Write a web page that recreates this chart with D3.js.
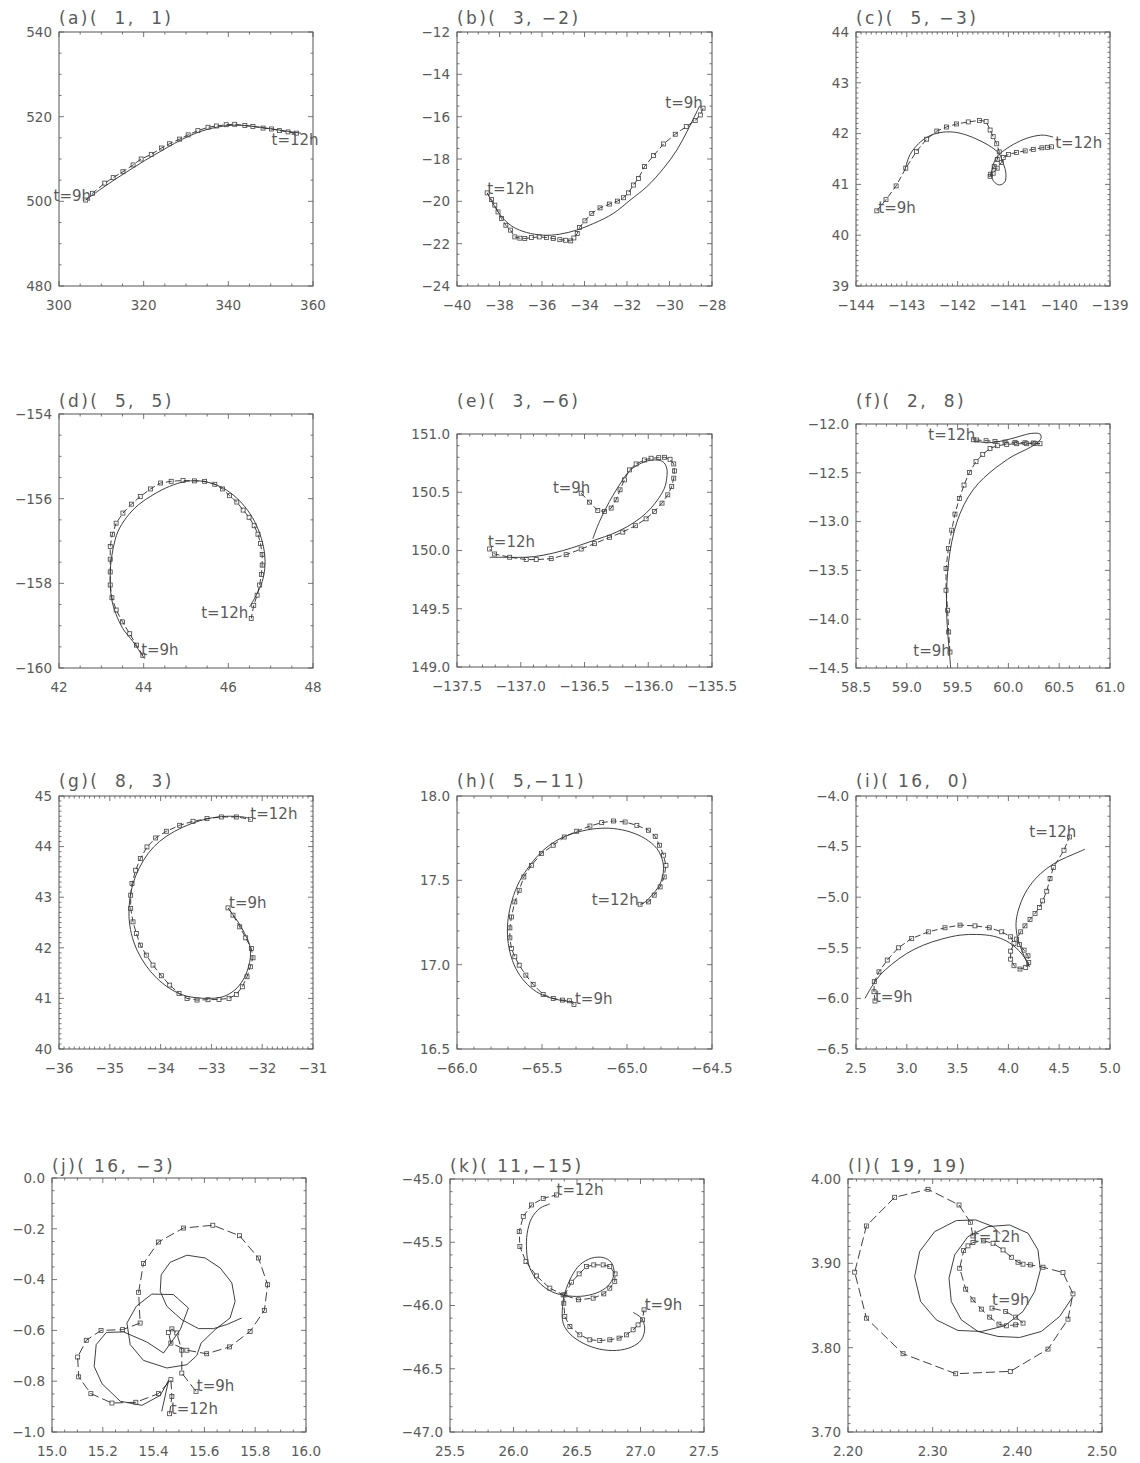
<!DOCTYPE html>
<html>
<head>
<meta charset="utf-8">
<script src="https://cdn.jsdelivr.net/npm/d3@7"></script>
<style>
  body { margin: 0; background: #fff; }
  svg text { font-family: "DejaVu Sans", sans-serif; fill: #5a5a5a; }
</style>
</head>
<body>
<svg id="chart" width="1140" height="1463"></svg>
<script>
// track comparison, 12 cases: dashed line with squares and a smooth solid line

var panelNames = ['a', 'b', 'c', 'd', 'e', 'f', 'g', 'h', 'i', 'j', 'k', 'l'];

var panelTitles = ['(a)(  1,  1)', '(b)(  3, \u22122)', '(c)(  5, \u22123)', '(d)(  5,  5)',
  '(e)(  3, \u22126)', '(f)(  2,  8)', '(g)(  8,  3)', '(h)(  5,\u221211)',
  '(i)( 16,  0)', '(j)( 16, \u22123)', '(k)( 11,\u221215)', '(l)( 19, 19)'];

var xTicks = [
  [300, 320, 340, 360],
  [-40, -38, -36, -34, -32, -30, -28],
  [-144, -143, -142, -141, -140, -139],
  [42, 44, 46, 48],
  [-137.5, -137.0, -136.5, -136.0, -135.5],
  [58.5, 59.0, 59.5, 60.0, 60.5, 61.0],
  [-36, -35, -34, -33, -32, -31],
  [-66.0, -65.5, -65.0, -64.5],
  [2.5, 3.0, 3.5, 4.0, 4.5, 5.0],
  [15.0, 15.2, 15.4, 15.6, 15.8, 16.0],
  [25.5, 26.0, 26.5, 27.0, 27.5],
  [2.20, 2.30, 2.40, 2.50]
];

var yTicks = [
  [480, 500, 520, 540],
  [-24, -22, -20, -18, -16, -14, -12],
  [39, 40, 41, 42, 43, 44],
  [-160, -158, -156, -154],
  [149.0, 149.5, 150.0, 150.5, 151.0],
  [-14.5, -14.0, -13.5, -13.0, -12.5, -12.0],
  [40, 41, 42, 43, 44, 45],
  [16.5, 17.0, 17.5, 18.0],
  [-6.5, -6.0, -5.5, -5.0, -4.5, -4.0],
  [-1.0, -0.8, -0.6, -0.4, -0.2, 0.0],
  [-47.0, -46.5, -46.0, -45.5, -45.0],
  [3.70, 3.80, 3.90, 4.00]
];

// minor intervals inside one major interval [x, y]
var minorSteps = [[4, 4], [4, 4], [10, 10], [4, 4], [5, 5], [5, 5], [10, 10], [5, 5], [5, 5], [4, 4], [5, 5], [10, 10]];
var tickDecimals = [[0, 0], [0, 0], [0, 0], [0, 0], [1, 1], [1, 1], [0, 0], [1, 1], [1, 1], [1, 1], [1, 1], [2, 2]];

// ---- tracks: dashed (with squares) and solid, as [x, y]
var dashed_a = [[306.3,500.3],[307.9,501.9],[310.8,504.3],[312.8,505.6],[315.1,507.0],[317.5,508.6],[319.4,510.0],[321.8,511.1],[324.2,512.6],[326.1,513.6],[328.5,514.7],[330.5,515.7],[332.8,516.7],[335.2,517.5],[337.2,517.8],[339.5,518.1],[341.5,518.2],[343.9,517.9],[345.8,517.7],[348.2,517.3],[350.2,517.1],[352.1,516.7],[354.1,516.4],[356.1,516.1]];
var solid_a = [[306.3,500.3],[309.6,502.7],[313.1,505.1],[316.7,507.4],[320.2,509.6],[323.8,511.7],[327.3,513.7],[330.9,515.5],[334.0,516.7],[337.2,517.5],[341.1,518.0],[345.0,517.8],[349.0,517.3],[352.9,516.7],[357.2,516.1]];
var labels_a = [['t=9h', 298.7, 500.1], ['t=12h', 350.2, 513.2]];

var dashed_b = [[-28.42,-15.60],[-28.55,-15.92],[-28.79,-16.18],[-29.21,-16.47],[-29.73,-16.83],[-30.28,-17.29],[-30.75,-17.84],[-31.18,-18.36],[-31.46,-18.92],[-31.70,-19.23],[-31.93,-19.60],[-32.17,-19.83],[-32.45,-19.99],[-32.83,-20.13],[-33.27,-20.31],[-33.66,-20.57],[-33.98,-20.92],[-34.24,-21.24],[-34.34,-21.52],[-34.50,-21.73],[-34.65,-21.87],[-34.89,-21.84],[-35.16,-21.81],[-35.47,-21.76],[-35.79,-21.71],[-36.13,-21.68],[-36.49,-21.71],[-36.81,-21.76],[-37.04,-21.74],[-37.28,-21.68],[-37.48,-21.36],[-37.70,-21.13],[-37.91,-20.81],[-38.07,-20.50],[-38.22,-20.18],[-38.38,-19.91],[-38.58,-19.60]];
var solid_b = [[-28.58,-15.49],[-28.79,-15.92],[-29.18,-16.71],[-29.65,-17.57],[-30.28,-18.44],[-31.07,-19.31],[-31.85,-19.94],[-32.64,-20.57],[-33.58,-21.05],[-34.37,-21.36],[-35.16,-21.55],[-35.94,-21.60],[-36.73,-21.47],[-37.36,-21.21],[-37.83,-20.81],[-38.22,-20.26],[-38.58,-19.60]];
var labels_b = [['t=9h', -30.20, -15.6], ['t=12h', -38.58, -19.63]];

var dashed_c = [[-143.59,40.48],[-143.41,40.70],[-143.21,40.97],[-143.02,41.32],[-142.81,41.65],[-142.61,41.89],[-142.41,42.05],[-142.22,42.13],[-142.02,42.19],[-141.79,42.23],[-141.57,42.26],[-141.44,42.24],[-141.36,42.07],[-141.30,41.94],[-141.23,41.80],[-141.18,41.64],[-141.22,41.49],[-141.28,41.35],[-141.35,41.20],[-141.36,41.16],[-141.30,41.22],[-141.22,41.32],[-141.14,41.43],[-141.10,41.53],[-141.00,41.59],[-140.84,41.63],[-140.67,41.66],[-140.51,41.69],[-140.34,41.72],[-140.23,41.73],[-140.15,41.74]];
var solid_c = [[-143.04,41.27],[-142.94,41.58],[-142.77,41.80],[-142.58,41.94],[-142.35,42.02],[-142.08,42.03],[-141.82,41.97],[-141.56,41.86],[-141.33,41.73],[-141.18,41.60],[-141.10,41.41],[-141.05,41.22],[-141.07,41.05],[-141.17,40.99],[-141.26,41.03],[-141.33,41.15],[-141.31,41.35],[-141.22,41.55],[-141.07,41.68],[-140.84,41.82],[-140.57,41.93],[-140.31,41.97],[-140.12,41.93]];
var labels_c = [['t=9h', -143.56, 40.43], ['t=12h', -140.08, 41.71]];

var dashed_d = [[43.98,-159.70],[43.83,-159.46],[43.67,-159.19],[43.50,-158.91],[43.35,-158.63],[43.25,-158.34],[43.21,-158.04],[43.21,-157.73],[43.21,-157.43],[43.21,-157.13],[43.26,-156.84],[43.35,-156.58],[43.51,-156.34],[43.71,-156.13],[43.92,-155.95],[44.16,-155.77],[44.40,-155.63],[44.65,-155.59],[44.93,-155.57],[45.20,-155.58],[45.44,-155.59],[45.68,-155.66],[45.86,-155.77],[46.03,-155.93],[46.20,-156.08],[46.35,-156.27],[46.49,-156.44],[46.61,-156.64],[46.70,-156.84],[46.76,-157.06],[46.80,-157.32],[46.80,-157.57],[46.78,-157.79],[46.74,-158.04],[46.68,-158.28],[46.60,-158.52],[46.54,-158.83]];
var solid_d = [[44.02,-159.78],[43.75,-159.38],[43.51,-159.07],[43.34,-158.71],[43.24,-158.36],[43.21,-157.96],[43.22,-157.57],[43.28,-157.17],[43.39,-156.78],[43.59,-156.45],[43.87,-156.15],[44.22,-155.91],[44.61,-155.71],[45.01,-155.59],[45.40,-155.59],[45.80,-155.71],[46.11,-155.91],[46.39,-156.19],[46.62,-156.54],[46.78,-156.94],[46.86,-157.33],[46.86,-157.65],[46.80,-157.96],[46.66,-158.28],[46.50,-158.56]];
var labels_d = [['t=9h', 43.94, -159.70], ['t=12h', 45.36, -158.81]];

var dashed_e = [[-136.526,150.492],[-136.461,150.415],[-136.396,150.344],[-136.343,150.335],[-136.291,150.364],[-136.252,150.435],[-136.221,150.521],[-136.187,150.606],[-136.147,150.692],[-136.095,150.743],[-136.030,150.777],[-135.978,150.792],[-135.918,150.797],[-135.873,150.800],[-135.829,150.783],[-135.800,150.743],[-135.795,150.683],[-135.800,150.621],[-135.816,150.549],[-135.847,150.478],[-135.892,150.407],[-135.952,150.335],[-136.017,150.272],[-136.101,150.213],[-136.200,150.158],[-136.304,150.113],[-136.422,150.059],[-136.526,150.013],[-136.644,149.964],[-136.761,149.930],[-136.879,149.922],[-136.957,149.922],[-137.087,149.942],[-137.205,149.970],[-137.244,150.013]];
var solid_e = [[-136.435,150.101],[-136.382,150.250],[-136.304,150.421],[-136.226,150.563],[-136.147,150.683],[-136.056,150.749],[-135.965,150.777],[-135.886,150.763],[-135.855,150.706],[-135.855,150.621],[-135.873,150.535],[-135.918,150.449],[-135.978,150.364],[-136.056,150.284],[-136.161,150.207],[-136.278,150.144],[-136.409,150.093],[-136.539,150.044],[-136.670,149.999],[-136.826,149.959],[-136.957,149.942],[-137.114,149.942],[-137.244,149.942]];
var labels_e = [['t=9h', -136.748, 150.492], ['t=12h', -137.257, 150.027]];

var dashed_f = [[59.425,-14.336],[59.412,-14.131],[59.402,-13.908],[59.386,-13.703],[59.386,-13.481],[59.409,-13.276],[59.442,-13.088],[59.474,-12.923],[59.517,-12.763],[59.563,-12.626],[59.616,-12.496],[59.681,-12.386],[59.747,-12.311],[59.819,-12.250],[59.891,-12.222],[59.983,-12.209],[60.081,-12.202],[60.180,-12.202],[60.262,-12.198],[60.311,-12.202],[60.245,-12.195],[60.163,-12.192],[60.065,-12.188],[59.967,-12.185],[59.868,-12.178],[59.780,-12.171],[59.688,-12.164],[59.655,-12.161]];
var solid_f = [[59.432,-14.500],[59.419,-14.336],[59.402,-14.131],[59.392,-13.925],[59.392,-13.720],[59.402,-13.515],[59.425,-13.310],[59.465,-13.105],[59.524,-12.917],[59.606,-12.746],[59.704,-12.609],[59.819,-12.496],[59.934,-12.404],[60.049,-12.325],[60.163,-12.267],[60.262,-12.209],[60.321,-12.147],[60.311,-12.103],[60.229,-12.096],[60.131,-12.120],[60.016,-12.154],[59.901,-12.181],[59.803,-12.192],[59.704,-12.181],[59.655,-12.174]];
var labels_f = [['t=9h', 59.064, -14.377], ['t=12h', 59.212, -12.164]];

var dashed_g = [[-32.673,42.789],[-32.575,42.645],[-32.443,42.414],[-32.325,42.197],[-32.214,41.987],[-32.181,41.803],[-32.233,41.625],[-32.299,41.428],[-32.391,41.230],[-32.509,41.079],[-32.653,41.000],[-32.850,40.980],[-33.067,40.974],[-33.283,40.967],[-33.480,41.000],[-33.638,41.099],[-33.821,41.263],[-33.985,41.447],[-34.150,41.658],[-34.281,41.855],[-34.399,42.053],[-34.478,42.283],[-34.543,42.513],[-34.589,42.776],[-34.589,43.039],[-34.563,43.270],[-34.491,43.533],[-34.399,43.763],[-34.268,43.993],[-34.097,44.171],[-33.887,44.303],[-33.625,44.421],[-33.362,44.500],[-33.087,44.553],[-32.804,44.586],[-32.509,44.586],[-32.233,44.539]];
var solid_g = [[-32.640,42.743],[-32.476,42.513],[-32.345,42.283],[-32.247,42.053],[-32.233,41.822],[-32.279,41.592],[-32.378,41.362],[-32.542,41.164],[-32.771,41.033],[-33.034,41.000],[-33.296,41.013],[-33.559,41.066],[-33.821,41.197],[-34.084,41.408],[-34.294,41.658],[-34.464,41.954],[-34.576,42.283],[-34.622,42.612],[-34.609,42.941],[-34.543,43.270],[-34.425,43.566],[-34.248,43.862],[-34.018,44.105],[-33.723,44.303],[-33.395,44.454],[-33.067,44.553],[-32.706,44.599],[-32.378,44.586],[-32.279,44.566]];
var labels_g = [['t=9h', -32.653, 42.796], ['t=12h', -32.233, 44.539]];

var dashed_h = [[-65.312,16.764],[-65.339,16.786],[-65.379,16.790],[-65.434,16.800],[-65.493,16.823],[-65.552,16.883],[-65.595,16.938],[-65.634,16.997],[-65.660,17.047],[-65.680,17.096],[-65.689,17.159],[-65.689,17.218],[-65.680,17.283],[-65.660,17.372],[-65.634,17.441],[-65.607,17.520],[-65.562,17.589],[-65.503,17.659],[-65.434,17.708],[-65.369,17.757],[-65.296,17.791],[-65.218,17.822],[-65.149,17.842],[-65.080,17.852],[-65.011,17.846],[-64.942,17.826],[-64.873,17.797],[-64.834,17.761],[-64.809,17.708],[-64.785,17.649],[-64.771,17.589],[-64.781,17.520],[-64.805,17.461],[-64.840,17.412],[-64.873,17.372],[-64.923,17.358]];
var solid_h = [[-65.316,16.780],[-65.375,16.786],[-65.453,16.804],[-65.532,16.839],[-65.601,16.899],[-65.654,16.977],[-65.689,17.076],[-65.703,17.175],[-65.699,17.274],[-65.676,17.382],[-65.634,17.491],[-65.571,17.589],[-65.493,17.678],[-65.394,17.747],[-65.286,17.787],[-65.178,17.807],[-65.080,17.807],[-64.982,17.787],[-64.893,17.747],[-64.824,17.688],[-64.789,17.609],[-64.789,17.530],[-64.815,17.461],[-64.854,17.412],[-64.893,17.372],[-64.913,17.362]];
var labels_h = [['t=9h', -65.306, 16.764], ['t=12h', -65.208, 17.353]];

var dashed_i = [[2.687,-6.026],[2.677,-5.934],[2.680,-5.835],[2.726,-5.737],[2.808,-5.621],[2.917,-5.500],[3.048,-5.408],[3.212,-5.342],[3.376,-5.302],[3.524,-5.276],[3.671,-5.283],[3.812,-5.302],[3.934,-5.342],[4.022,-5.391],[4.055,-5.457],[4.022,-5.533],[4.022,-5.612],[4.055,-5.677],[4.114,-5.710],[4.170,-5.694],[4.200,-5.645],[4.193,-5.579],[4.154,-5.523],[4.108,-5.467],[4.081,-5.414],[4.121,-5.342],[4.163,-5.283],[4.213,-5.220],[4.262,-5.161],[4.305,-5.102],[4.337,-5.036],[4.377,-4.941],[4.410,-4.816],[4.442,-4.707],[4.547,-4.536],[4.600,-4.405]];
var solid_i = [[2.589,-6.000],[2.654,-5.885],[2.736,-5.770],[2.851,-5.664],[2.999,-5.556],[3.163,-5.474],[3.343,-5.414],[3.524,-5.375],[3.688,-5.368],[3.852,-5.385],[3.983,-5.434],[4.075,-5.500],[4.141,-5.572],[4.190,-5.645],[4.206,-5.687],[4.180,-5.638],[4.131,-5.523],[4.088,-5.391],[4.075,-5.260],[4.098,-5.128],[4.163,-4.964],[4.262,-4.822],[4.377,-4.717],[4.508,-4.635],[4.639,-4.576],[4.754,-4.526]];
var labels_i = [['t=9h', 2.687, -6.033], ['t=12h', 4.206, -4.405]];

var dashed_j = [[15.567,-0.840],[15.511,-0.768],[15.511,-0.678],[15.491,-0.610],[15.472,-0.594],[15.459,-0.608],[15.468,-0.650],[15.531,-0.678],[15.609,-0.692],[15.699,-0.665],[15.780,-0.604],[15.836,-0.521],[15.849,-0.420],[15.813,-0.315],[15.738,-0.227],[15.633,-0.186],[15.518,-0.197],[15.419,-0.252],[15.360,-0.337],[15.341,-0.450],[15.347,-0.571],[15.278,-0.597],[15.193,-0.600],[15.135,-0.639],[15.101,-0.705],[15.105,-0.783],[15.153,-0.849],[15.236,-0.886],[15.330,-0.883],[15.419,-0.849],[15.468,-0.794],[15.472,-0.860],[15.463,-0.928]];
var solid_j = [[15.747,-0.551],[15.688,-0.577],[15.636,-0.593],[15.577,-0.593],[15.511,-0.558],[15.452,-0.505],[15.426,-0.446],[15.430,-0.381],[15.465,-0.332],[15.531,-0.304],[15.603,-0.315],[15.662,-0.354],[15.708,-0.413],[15.721,-0.486],[15.701,-0.551],[15.642,-0.597],[15.587,-0.650],[15.570,-0.699],[15.531,-0.735],[15.452,-0.748],[15.360,-0.718],[15.308,-0.656],[15.295,-0.571],[15.332,-0.505],[15.393,-0.457],[15.478,-0.459],[15.537,-0.512],[15.505,-0.597],[15.439,-0.689],[15.374,-0.646],[15.282,-0.606],[15.214,-0.608],[15.174,-0.656],[15.166,-0.742],[15.197,-0.810],[15.269,-0.879],[15.354,-0.895],[15.426,-0.856],[15.459,-0.797],[15.432,-0.919]];
var labels_j = [['t=9h', 15.570, -0.840], ['t=12h', 15.468, -0.928]];

var dashed_k = [[27.028,-46.034],[27.015,-46.113],[26.981,-46.153],[26.942,-46.192],[26.889,-46.232],[26.831,-46.258],[26.758,-46.271],[26.679,-46.277],[26.601,-46.271],[26.522,-46.232],[26.444,-46.166],[26.404,-46.087],[26.396,-45.982],[26.404,-45.916],[26.457,-45.816],[26.517,-45.750],[26.575,-45.692],[26.632,-45.679],[26.706,-45.679],[26.758,-45.692],[26.800,-45.750],[26.797,-45.811],[26.758,-45.863],[26.711,-45.908],[26.627,-45.942],[26.512,-45.955],[26.391,-45.916],[26.286,-45.863],[26.181,-45.766],[26.098,-45.653],[26.050,-45.534],[26.045,-45.416],[26.077,-45.297],[26.142,-45.205],[26.234,-45.153],[26.339,-45.126]];
var solid_k = [[26.942,-46.055],[27.007,-46.100],[27.033,-46.179],[27.007,-46.271],[26.928,-46.329],[26.811,-46.355],[26.679,-46.345],[26.548,-46.298],[26.444,-46.224],[26.391,-46.140],[26.386,-46.008],[26.404,-45.903],[26.457,-45.771],[26.522,-45.679],[26.614,-45.626],[26.706,-45.621],[26.771,-45.661],[26.792,-45.745],[26.758,-45.829],[26.679,-45.890],[26.561,-45.924],[26.430,-45.924],[26.299,-45.890],[26.195,-45.811],[26.124,-45.692],[26.103,-45.561],[26.108,-45.429],[26.142,-45.311],[26.208,-45.232],[26.286,-45.197]];
var labels_k = [['t=9h', 27.033, -46.034], ['t=12h', 26.339, -45.126]];

var dashed_l = [[2.3701,3.8469],[2.3862,3.8429],[2.3980,3.8362],[2.4067,3.8291],[2.3980,3.8271],[2.3870,3.8259],[2.3783,3.8279],[2.3673,3.8362],[2.3575,3.8457],[2.3476,3.8567],[2.3390,3.8694],[2.3319,3.8942],[2.3366,3.9151],[2.3417,3.9207],[2.3476,3.9246],[2.3602,3.9266],[2.3713,3.9238],[2.3831,3.9159],[2.3929,3.9072],[2.4008,3.9013],[2.4067,3.8990],[2.4154,3.8982],[2.4303,3.8954],[2.4539,3.8891],[2.4657,3.8638],[2.4598,3.8338],[2.4362,3.7983],[2.3917,3.7719],[2.3272,3.7691],[2.2650,3.7928],[2.2217,3.8350],[2.2079,3.8895],[2.2217,3.9443],[2.2551,3.9783],[2.2945,3.9878],[2.3311,3.9692],[2.3445,3.9487],[2.3476,3.9325]];
var solid_l = [[2.4657,3.8607],[2.4500,3.8370],[2.4283,3.8192],[2.4028,3.8121],[2.3772,3.8133],[2.3535,3.8192],[2.3339,3.8330],[2.3220,3.8547],[2.3193,3.8824],[2.3260,3.9100],[2.3417,3.9317],[2.3654,3.9436],[2.3909,3.9455],[2.4126,3.9357],[2.4244,3.9159],[2.4272,3.8922],[2.4205,3.8666],[2.4067,3.8429],[2.3850,3.8259],[2.3575,3.8192],[2.3299,3.8204],[2.3043,3.8330],[2.2858,3.8547],[2.2787,3.8844],[2.2846,3.9140],[2.3024,3.9376],[2.3280,3.9507],[2.3508,3.9515],[2.3713,3.9436],[2.3799,3.9349]];
var labels_l = [['t=9h', 2.3701, 3.8508], ['t=12h', 2.3476, 3.9258]];

var dashedTracks = [dashed_a, dashed_b, dashed_c, dashed_d, dashed_e, dashed_f, dashed_g, dashed_h, dashed_i, dashed_j, dashed_k, dashed_l];
var solidTracks = [solid_a, solid_b, solid_c, solid_d, solid_e, solid_f, solid_g, solid_h, solid_i, solid_j, solid_k, solid_l];
var timeLabels = [labels_a, labels_b, labels_c, labels_d, labels_e, labels_f, labels_g, labels_h, labels_i, labels_j, labels_k, labels_l];

// page layout: plot box [left, top, width, height] and title baseline
var boxes = [
  [59, 32, 254, 254], [457, 32, 255, 254], [856, 32, 254, 254],
  [59, 414, 254, 254], [457, 434, 255, 233], [856, 424, 254, 244],
  [59, 796, 254, 253], [457, 796, 255, 253], [856, 796, 254, 253],
  [52, 1178, 254, 254], [450, 1179, 254, 253], [848, 1179, 254, 253]
];
var titleBaselines = [24, 24, 24, 407, 407, 407, 787, 787, 787, 1172, 1172, 1172];

var lineColor = '#2a2a2a';
var axisColor = '#555';
var majorLen = 5;
var minorLen = 2.5;

var svg = d3.select('#chart');

// ticks on one side of the box, pointing inward
function drawSideTicks(g, scale, values, nMinor, side, w, h) {

  var positions = [];
  values.forEach(function(v, i) {
    positions.push({v: v, len: majorLen});
    if (i < values.length - 1) {
      var step = (values[i + 1] - v) / nMinor;
      for (var k = 1; k < nMinor; k++) {
        positions.push({v: v + k * step, len: minorLen});
      }
    }
  });

  g.selectAll('line.tick-' + side)
    .data(positions)
    .enter().append('line')
    .attr('class', 'tick-' + side)
    .attr('stroke', axisColor)
    .attr('stroke-width', 0.8)
    .attr('x1', function(d) {
      if (side === 'bottom' || side === 'top') return scale(d.v);
      return side === 'left' ? 0 : w;
    })
    .attr('x2', function(d) {
      if (side === 'bottom' || side === 'top') return scale(d.v);
      return side === 'left' ? d.len : w - d.len;
    })
    .attr('y1', function(d) {
      if (side === 'left' || side === 'right') return scale(d.v);
      return side === 'top' ? 0 : h;
    })
    .attr('y2', function(d) {
      if (side === 'left' || side === 'right') return scale(d.v);
      return side === 'top' ? d.len : h - d.len;
    });
}


panelNames.forEach(function(name, idx) {

  var box = boxes[idx];
  var w = box[2], h = box[3];
  var xt = xTicks[idx], yt = yTicks[idx];

  var x = d3.scaleLinear().domain([xt[0], xt[xt.length - 1]]).range([0, w]);
  var y = d3.scaleLinear().domain([yt[0], yt[yt.length - 1]]).range([h, 0]);

  var g = svg.append('g')
    .attr('class', 'panel panel-' + name)
    .attr('transform', 'translate(' + box[0] + ',' + box[1] + ')');

  // frame
  g.append('rect')
    .attr('width', w).attr('height', h)
    .attr('fill', 'none')
    .attr('stroke', axisColor)
    .attr('stroke-width', 1);

  drawSideTicks(g, x, xt, minorSteps[idx][0], 'bottom', w, h);
  drawSideTicks(g, x, xt, minorSteps[idx][0], 'top', w, h);
  drawSideTicks(g, y, yt, minorSteps[idx][1], 'left', w, h);
  drawSideTicks(g, y, yt, minorSteps[idx][1], 'right', w, h);

  var fx = d3.format('.' + tickDecimals[idx][0] + 'f');
  var fy = d3.format('.' + tickDecimals[idx][1] + 'f');

  g.selectAll('text.xlab')
    .data(xt)
    .enter().append('text')
    .attr('class', 'xlab')
    .attr('x', function(d) { return x(d); })
    .attr('y', h + 24)
    .attr('text-anchor', 'middle')
    .style('font-size', '13.5px')
    .text(function(d) { return fx(d); });

  g.selectAll('text.ylab')
    .data(yt)
    .enter().append('text')
    .attr('class', 'ylab')
    .attr('x', -7)
    .attr('y', function(d) { return y(d); })
    .attr('dy', '0.36em')
    .attr('text-anchor', 'end')
    .style('font-size', '13.5px')
    .text(function(d) { return fy(d); });

  // title sits above the box, left aligned with it
  svg.append('text')
    .attr('x', box[0])
    .attr('y', titleBaselines[idx])
    .style('font-size', '17px')
    .style('letter-spacing', '2.4px')
    .style('white-space', 'pre')
    .text(panelTitles[idx]);

  // solid track (j and l are drawn as plain polygons)
  var polygonal = (name === 'j' || name === 'l');
  var solidLine = d3.line()
    .x(function(d) { return x(d[0]); })
    .y(function(d) { return y(d[1]); })
    .curve(polygonal ? d3.curveLinear : d3.curveCatmullRom.alpha(0.5));

  g.append('path')
    .datum(solidTracks[idx])
    .attr('d', solidLine)
    .attr('fill', 'none')
    .attr('stroke', lineColor)
    .attr('stroke-width', 0.9);

  // dashed track with square symbols
  var dashedLine = d3.line()
    .x(function(d) { return x(d[0]); })
    .y(function(d) { return y(d[1]); });

  g.append('path')
    .datum(dashedTracks[idx])
    .attr('d', dashedLine)
    .attr('fill', 'none')
    .attr('stroke', lineColor)
    .attr('stroke-width', 0.9)
    .attr('stroke-dasharray', polygonal ? '9,4' : '6,3');

  g.selectAll('rect.sym')
    .data(dashedTracks[idx])
    .enter().append('rect')
    .attr('class', 'sym')
    .attr('x', function(d) { return x(d[0]) - 2; })
    .attr('y', function(d) { return y(d[1]) - 2; })
    .attr('width', 4).attr('height', 4)
    .attr('fill', 'none')
    .attr('stroke', '#444')
    .attr('stroke-width', 0.8);

  // start / end times
  g.selectAll('text.tlab')
    .data(timeLabels[idx])
    .enter().append('text')
    .attr('class', 'tlab')
    .attr('x', function(d) { return x(d[1]); })
    .attr('y', function(d) { return y(d[2]); })
    .style('font-size', '15px')
    .text(function(d) { return d[0]; });
});
</script>
</body>
</html>
